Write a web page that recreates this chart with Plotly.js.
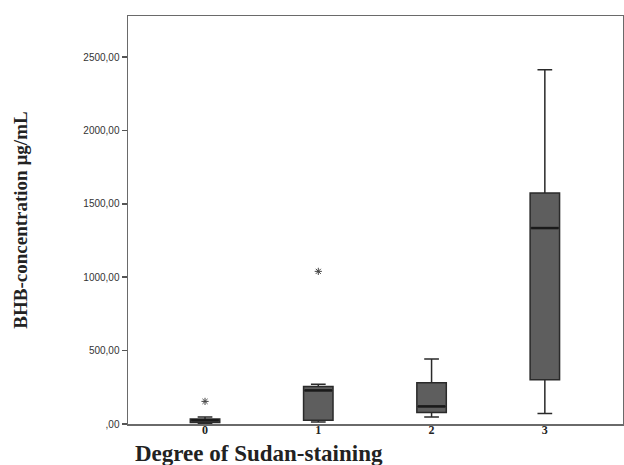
<!DOCTYPE html>
<html>
<head>
<meta charset="utf-8">
<script src="https://cdn.plot.ly/plotly-3.0.1.min.js"></script>
<style>html,body{margin:0;padding:0;background:#fff;}#chart{width:624px;height:465px;}</style>
</head>
<body>
<div id="chart"></div>
<script>
// Degree of Sudan-staining categories
const categories = ['0', '1', '2', '3'];
// Box statistics (BHB concentration, µg/mL)
const lowerWhisker = [5, 14, 48, 72];
const q1Values = [11, 25, 79, 302];
const medianValues = [25, 229, 120, 1335];
const q3Values = [34, 256, 281, 1574];
const upperWhisker = [48, 270, 443, 2413];
// Extreme values (asterisks)
const outlierCategories = ['0', '1'];
const outlierValues = [154, 1040];
// Axis ticks
const yTickVals = [0, 500, 1000, 1500, 2000, 2500];
const yTickText = [',00', '500,00', '1000,00', '1500,00', '2000,00', '2500,00'];

const boxTrace = {
  type: 'box',
  x: categories,
  q1: q1Values,
  median: medianValues,
  q3: q3Values,
  lowerfence: lowerWhisker,
  upperfence: upperWhisker,
  width: 0.26,
  whiskerwidth: 0.5,
  fillcolor: '#5e5e5e',
  line: {color: '#2a2a2a', width: 1.5},
  boxpoints: false,
  hoverinfo: 'skip',
  showlegend: false
};

const medianTrace = {
  type: 'scatter',
  mode: 'markers',
  x: categories,
  y: medianValues,
  marker: {symbol: 'line-ew-open', size: 19.5, color: '#1a1a1a', line: {color: '#1a1a1a', width: 2.5}},
  hoverinfo: 'skip',
  showlegend: false
};

const outlierTrace = {
  type: 'scatter',
  mode: 'markers',
  x: outlierCategories,
  y: outlierValues,
  marker: {symbol: 'asterisk-open', size: 6, line: {color: '#444', width: 1}, color: '#444'},
  hoverinfo: 'skip',
  showlegend: false
};

const layout = {
  width: 624,
  height: 465,
  margin: {l: 128, r: 1, t: 16, b: 41},
  paper_bgcolor: '#ffffff',
  plot_bgcolor: '#ffffff',
  showlegend: false,
  xaxis: {
    type: 'category',
    categoryorder: 'array',
    categoryarray: categories,
    range: [-0.68, 3.69],
    showgrid: false,
    zeroline: false,
    showline: true,
    mirror: true,
    linecolor: '#6a6a6a',
    linewidth: 1.5,
    ticks: '',
    tickfont: {family: 'Liberation Serif, Times New Roman, serif', size: 12, color: '#222', weight: 'bold'},
    ticklabelstandoff: -6
  },
  yaxis: {
    range: [0, 2780],
    tickvals: yTickVals,
    ticktext: yTickText,
    showgrid: false,
    zeroline: false,
    showline: true,
    mirror: true,
    linecolor: '#6a6a6a',
    linewidth: 1.5,
    ticks: 'outside',
    ticklen: 5,
    tickwidth: 1.5,
    tickcolor: '#555',
    tickfont: {family: 'Liberation Sans, Arial, sans-serif', size: 10, color: '#333'},
    title: {
      text: '<b>BHB-concentration µg/mL</b>',
      font: {family: 'Liberation Serif, Times New Roman, serif', size: 19, color: '#222'},
      standoff: 50
    }
  },
  annotations: [{
    xref: 'paper', yref: 'paper',
    x: 0.01, y: -0.036,
    xanchor: 'left', yanchor: 'top',
    text: '<b>Degree of Sudan-staining</b>',
    showarrow: false,
    font: {family: 'Liberation Serif, Times New Roman, serif', size: 23, color: '#222'}
  }]
};

Plotly.newPlot('chart', [boxTrace, medianTrace, outlierTrace], layout, {displayModeBar: false, staticPlot: true});
</script>
</body>
</html>
